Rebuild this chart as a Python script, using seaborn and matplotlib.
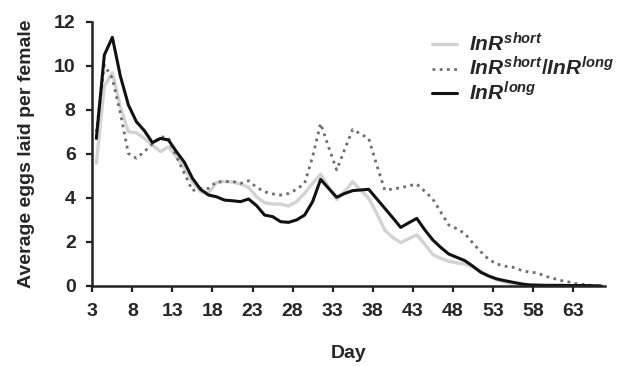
import numpy as np
import pandas as pd
import matplotlib
matplotlib.use('Agg')
import matplotlib.pyplot as plt
import seaborn as sns

# --- data (average eggs per female, day 3..66) ---
days = list(range(3, 67))

inr_short = [5.57, 9.08, 9.68, 8.14, 7.00, 6.96, 6.70, 6.40, 6.10, 6.32,
             5.87, 5.34, 4.73, 4.28, 4.21, 4.70, 4.75, 4.72, 4.63, 4.48,
             4.05, 3.78, 3.72, 3.72, 3.63, 3.83, 4.21, 4.66, 5.07, 4.50,
             3.93, 4.30, 4.73, 4.35, 3.98, 3.30, 2.54, 2.20, 1.97, 2.15,
             2.32, 1.90, 1.43, 1.25, 1.12, 1.05, 1.00, 0.85, 0.68, 0.45,
             0.28, 0.18, 0.10, 0.06, 0.03, 0.02, 0.02, 0.01, 0.01, 0.01,
             0.01, 0.00, 0.00, 0.00]

inr_het = [7.00, 10.03, 9.43, 7.84, 6.02, 5.80, 6.10, 6.45, 6.78, 6.72,
           5.87, 5.11, 4.33, 4.43, 4.43, 4.73, 4.73, 4.75, 4.66, 4.78,
           4.48, 4.28, 4.18, 4.13, 4.20, 4.39, 4.66, 5.87, 7.38, 6.30,
           5.27, 6.20, 7.11, 6.90, 6.70, 5.50, 4.36, 4.40, 4.46, 4.55,
           4.63, 4.30, 3.95, 3.35, 2.77, 2.60, 2.38, 1.95, 1.55, 1.20,
           1.00, 0.90, 0.85, 0.72, 0.63, 0.60, 0.45, 0.35, 0.25, 0.18,
           0.10, 0.06, 0.02, 0.00]

inr_long = [6.70, 10.49, 11.29, 9.53, 8.22, 7.46, 7.05, 6.51, 6.70, 6.63,
            6.10, 5.61, 4.89, 4.39, 4.13, 4.05, 3.90, 3.87, 3.83, 3.95,
            3.65, 3.22, 3.15, 2.92, 2.89, 3.00, 3.22, 3.83, 4.84, 4.43,
            4.03, 4.20, 4.33, 4.36, 4.39, 3.96, 3.53, 3.10, 2.66, 2.87,
            3.07, 2.55, 2.09, 1.75, 1.45, 1.30, 1.15, 0.90, 0.62, 0.45,
            0.32, 0.24, 0.17, 0.10, 0.05, 0.04, 0.03, 0.03, 0.03, 0.02,
            0.02, 0.02, 0.01, 0.00]

labels = [r'$InR^{short}$', r'$InR^{short}$/$InR^{long}$', r'$InR^{long}$']
xticks = list(range(3, 64, 5))
yticks = list(range(0, 13, 2))

# --- style ---
sns.set_style('ticks')
plt.rcParams['font.family'] = ['Liberation Sans', 'DejaVu Sans']
plt.rcParams['font.weight'] = 'bold'
plt.rcParams['mathtext.fontset'] = 'custom'
plt.rcParams['mathtext.it'] = 'Liberation Sans:italic:bold'
plt.rcParams['mathtext.rm'] = 'Liberation Sans:bold'
plt.rcParams['mathtext.bf'] = 'Liberation Sans:bold'

fig = plt.figure(figsize=(6.18, 3.66), dpi=100)
ax = fig.add_axes([0.1494, 0.2186, 0.8296, 0.7221])

# points sit in the middle of each day slot
x = np.array(days) + 0.5

sns.lineplot(x=x, y=inr_short, ax=ax, color='#d3d3d3', lw=2.4,
             label=labels[0])
sns.lineplot(x=x, y=inr_het, ax=ax, color='#6e6e6e', lw=2.0,
             linestyle=(0, (1, 1.6)), label=labels[1])
sns.lineplot(x=x, y=inr_long, ax=ax, color='#111111', lw=2.2,
             label=labels[2])

ax.set_xlim(3, 67)
ax.set_ylim(0, 12)
ax.set_xticks(xticks)
ax.set_yticks(yticks)
ax.set_xticklabels([str(t) for t in xticks], fontsize=14, fontweight='bold')
ax.set_yticklabels([str(t) for t in yticks], fontsize=14, fontweight='bold')
ax.tick_params(direction='out', length=4, width=1.6, color='#222222')
ax.tick_params(axis='x', pad=8)
ax.tick_params(axis='y', pad=8)

for side in ['top', 'right']:
    ax.spines[side].set_visible(False)
for side in ['left', 'bottom']:
    ax.spines[side].set_linewidth(1.8)
    ax.spines[side].set_color('#222222')

ax.set_xlabel('Day', fontsize=14, fontweight='bold', labelpad=18)
ax.set_ylabel('Average eggs laid per female', fontsize=14,
              fontweight='bold', labelpad=14)

leg = ax.legend(loc='upper right', frameon=False, fontsize=15,
                handlelength=1.2, handletextpad=0.6, labelspacing=0.05,
                bbox_to_anchor=(1.055, 1.03))

fig.savefig('out.png', dpi=100)
